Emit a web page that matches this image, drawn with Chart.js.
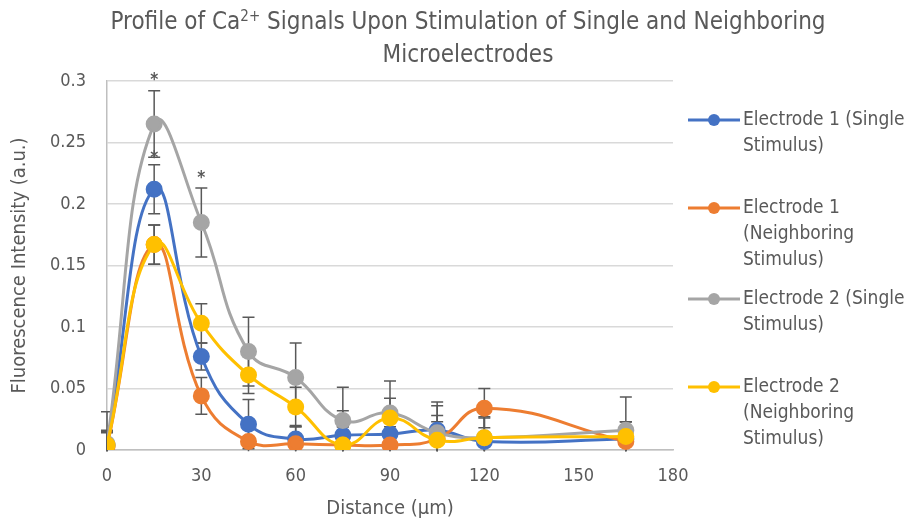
<!DOCTYPE html>
<html><head><meta charset="utf-8">
<script src="https://cdn.jsdelivr.net/npm/chart.js@4.4.0/dist/chart.umd.min.js"></script>
<style>html,body{margin:0;padding:0;background:#fff;}#wrap{position:relative;width:912px;height:525px;}</style>
</head><body><div id="wrap"><canvas id="c" width="912" height="525"></canvas></div>
<script>
// ---- data ----
const distances = [0, 15, 30, 45, 60, 75, 90, 105, 120, 165];
const e1Single   = [0.004, 0.212, 0.076, 0.021, 0.009, 0.012, 0.013, 0.016, 0.007, 0.009];
const e1Neighbor = [0.003, 0.167, 0.044, 0.007, 0.005, 0.004, 0.004, 0.009, 0.034, 0.007];
const e2Single   = [0.005, 0.265, 0.185, 0.080, 0.059, 0.024, 0.030, 0.014, 0.010, 0.016];
const e2Neighbor = [0.004, 0.167, 0.103, 0.061, 0.035, 0.004, 0.026, 0.008, 0.010, 0.011];
const e1SingleErr   = [0.010, 0.020, 0.011, 0.020, 0.010, 0.020, 0.020, 0.020, 0.020, 0.014];
const e1NeighborErr = [0.012, 0.016, 0.015, 0.015, 0.015, 0.015, 0.015, 0.014, 0.016, 0.016];
const e2SingleErr   = [0.026, 0.027, 0.028, 0.028, 0.028, 0.027, 0.026, 0.025, 0.025, 0.027];
const e2NeighborErr = [0.012, 0.016, 0.016, 0.015, 0.016, 0.015, 0.016, 0.020, 0.016, 0.012];
const seriesNames = [
  ['Electrode 1 (Single', 'Stimulus)'],
  ['Electrode 1', '(Neighboring', 'Stimulus)'],
  ['Electrode 2 (Single', 'Stimulus)'],
  ['Electrode 2', '(Neighboring', 'Stimulus)']
];
const significanceMarks = [{x: 15, y: 0.304}, {x: 15, y: 0.240}, {x: 30, y: 0.224}];
const xTicks = [0, 30, 60, 90, 120, 150, 180];
const xTickLabels = ['0', '30', '60', '90', '120', '150', '180'];
const yTicks = [0, 0.05, 0.1, 0.15, 0.2, 0.25, 0.3];
const yTickLabels = ['0', '0.05', '0.1', '0.15', '0.2', '0.25', '0.3'];
const titleParts = [['Profile of Ca', false], ['2+', true], [' Signals Upon Stimulation of Single and Neighboring', false]];
const titleLine2 = 'Microelectrodes';
const xTitle = 'Distance (µm)';
const yTitle = 'Fluorescence Intensity (a.u.)';

// ---- styles ----
const FONT = '"Liberation Sans Narrow", "DejaVu Sans Condensed", Roboto, sans-serif';
const TXT = '#595959';
const colors = ['#4472C4', '#ED7D31', '#A5A5A5', '#FFC000'];
const values = [e1Single, e1Neighbor, e2Single, e2Neighbor];
const errors = [e1SingleErr, e1NeighborErr, e2SingleErr, e2NeighborErr];

const datasets = values.map((vals, i) => ({
  label: seriesNames[i].join(' '),
  data: distances.map((x, j) => ({x: x, y: vals[j]})),
  err: errors[i],
  borderColor: colors[i],
  backgroundColor: colors[i],
  pointBackgroundColor: colors[i],
  pointBorderColor: colors[i],
  pointRadius: 7,
  borderWidth: 3,
  tension: 0.45,
  order: 4 - i
}));

const errorBars = {
  id: 'errorBars',
  beforeDatasetsDraw(chart) {
    const {ctx, chartArea: a, scales: {x, y}} = chart;
    ctx.save();
    ctx.beginPath();
    ctx.rect(a.left - 10, a.top - 30, a.right - a.left + 20, a.bottom - a.top + 32);
    ctx.clip();
    ctx.strokeStyle = '#595959';
    ctx.lineWidth = 1.5;
    chart.data.datasets.forEach(ds => {
      ds.data.forEach((p, j) => {
        const e = ds.err[j];
        const px = x.getPixelForValue(p.x);
        const lo = Math.max(p.y - e, -0.001);
        const y1 = y.getPixelForValue(p.y + e), y2 = y.getPixelForValue(lo);
        ctx.beginPath();
        ctx.moveTo(px, y1); ctx.lineTo(px, y2);
        ctx.moveTo(px - 6, y1); ctx.lineTo(px + 6, y1);
        if (p.y - e >= 0) { ctx.moveTo(px - 6, y2); ctx.lineTo(px + 6, y2); }
        ctx.stroke();
      });
    });
    ctx.restore();
  }
};

const decorations = {
  id: 'decorations',
  afterDraw(chart) {
    const {ctx, scales: {x, y}} = chart;
    ctx.save();
    ctx.fillStyle = TXT;
    // title
    const big = '24px ' + FONT, sup = '15px ' + FONT;
    let w = 0;
    titleParts.forEach(([t, s]) => { ctx.font = s ? sup : big; w += ctx.measureText(t).width; });
    let cx = 468 - w / 2;
    ctx.textBaseline = 'alphabetic';
    ctx.textAlign = 'left';
    titleParts.forEach(([t, s]) => {
      ctx.font = s ? sup : big;
      ctx.fillText(t, cx, s ? 21 : 29);
      cx += ctx.measureText(t).width;
    });
    ctx.font = big;
    ctx.textAlign = 'center';
    ctx.fillText(titleLine2, 468, 62);
    // significance marks
    ctx.font = 'bold 17px ' + FONT;
    ctx.textBaseline = 'middle';
    significanceMarks.forEach(m => {
      ctx.fillText('*', x.getPixelForValue(m.x), y.getPixelForValue(m.y) + 4);
    });
    // legend
    const ly = [120, 208, 299, 387];
    ctx.font = '19px ' + FONT;
    ctx.textAlign = 'left';
    chart.data.datasets.forEach((ds, i) => {
      ctx.strokeStyle = colors[i];
      ctx.lineWidth = 3;
      ctx.beginPath(); ctx.moveTo(688, ly[i]); ctx.lineTo(740, ly[i]); ctx.stroke();
      ctx.fillStyle = colors[i];
      ctx.beginPath(); ctx.arc(714, ly[i], 6, 0, Math.PI * 2); ctx.fill();
      ctx.fillStyle = TXT;
      seriesNames[i].forEach((line, k) => ctx.fillText(line, 743, ly[i] + k * 26));
    });
    ctx.restore();
  }
};

new Chart(document.getElementById('c'), {
  type: 'line',
  data: {datasets},
  plugins: [errorBars, decorations],
  options: {
    responsive: false,
    animation: false,
    layout: {padding: {top: 81, right: 239, left: 0, bottom: 0}},
    plugins: {legend: {display: false}, tooltip: {enabled: false}, title: {display: false}},
    scales: {
      x: {
        type: 'linear', min: 0, max: 180,
        afterBuildTicks(s) { s.ticks = xTicks.map(v => ({value: v})); },
        ticks: {color: TXT, font: {size: 18, family: FONT}, padding: 16, maxRotation: 0,
                callback: (v, i) => xTickLabels[i]},
        grid: {display: false, drawTicks: false},
        border: {color: '#BFBFBF', width: 1.5},
        title: {display: true, text: xTitle, color: TXT, font: {size: 20, family: FONT}, padding: {top: 2}},
        afterFit(s) { s.height = 75; }
      },
      y: {
        min: 0, max: 0.3,
        afterBuildTicks(s) { s.ticks = yTicks.map(v => ({value: v})); },
        ticks: {color: TXT, font: {size: 18, family: FONT}, padding: 21,
                callback: (v, i) => yTickLabels[i]},
        grid: {color: '#D9D9D9', lineWidth: 1.5, drawTicks: false},
        border: {color: '#BFBFBF', width: 1.5},
        title: {display: true, text: yTitle, color: TXT, font: {size: 20, family: FONT}, padding: {top: 8}},
        afterFit(s) { s.width = 107; }
      }
    }
  }
});
</script></body></html>
